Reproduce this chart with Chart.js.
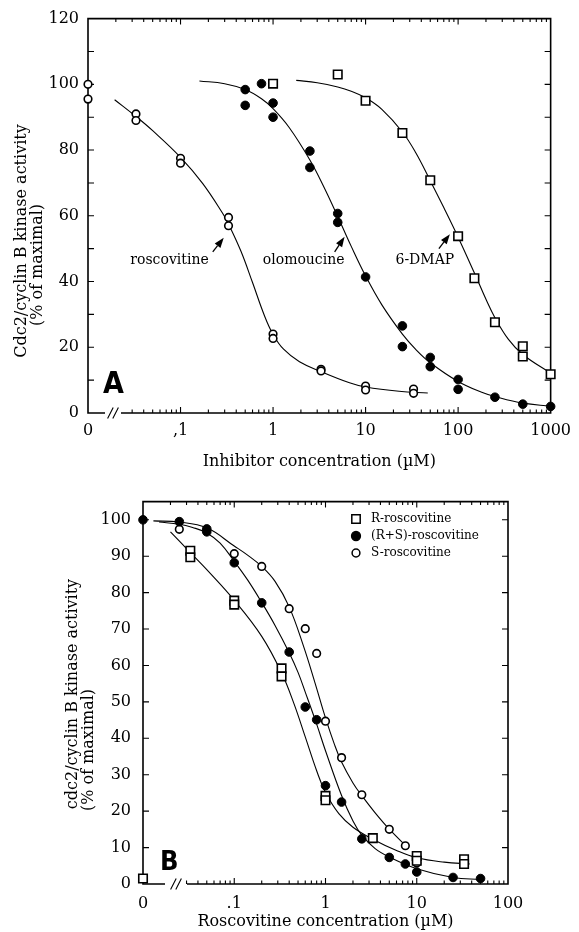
<!DOCTYPE html>
<html><head><meta charset="utf-8">
<script src="https://cdn.jsdelivr.net/npm/chart.js@4.4.0/dist/chart.umd.min.js"></script>
<style>
html,body{margin:0;padding:0;background:#fff;overflow:hidden;}
#cA{position:absolute;left:0;top:0;}
#cB{position:absolute;left:0;top:480px;}
</style></head><body>
<canvas id="cA" width="579" height="480"></canvas>
<canvas id="cB" width="579" height="452"></canvas>
<script>
// ---------- Panel A data ----------
const xTicksA = [0, 0.1, 1, 10, 100, 1000];
const xLabelsA = ['0', ',1', '1', '10', '100', '1000'];
const yTicksA = [0, 20, 40, 60, 80, 100, 120];

const roscoX = [0, 0, 0.033, 0.033, 0.1, 0.1, 0.33, 0.33, 1, 1, 3.3, 3.3, 10, 10, 33, 33];
const roscoY = [100, 95.5, 91, 89, 77.5, 76, 59.5, 57, 24, 22.7, 13.3, 12.8, 8.2, 7, 7.3, 6];
const roscoCurveX = [0.0194, 0.033, 0.05, 0.1, 0.174, 0.286, 0.33, 0.45, 0.6, 0.8, 1, 1.3, 1.93, 3.3, 6.7, 10, 23, 47];
const roscoCurveY = [95.3, 90.2, 85.9, 77.8, 69.8, 60.7, 57.5, 49.2, 39.7, 29.9, 23.9, 19.4, 15.6, 12.6, 9.2, 7.9, 6.6, 6.1];

const oloX = [0.5, 0.5, 0.75, 1, 1, 2.5, 2.5, 5, 5, 10, 25, 25, 50, 50, 100, 100, 250, 500, 1000];
const oloY = [98.4, 93.6, 100.2, 94.3, 90, 79.7, 74.7, 60.7, 58, 41.4, 26.5, 20.2, 16.9, 14.1, 10.2, 7.2, 4.8, 2.7, 2];
const oloCurveX = [0.16, 0.3, 0.5, 0.75, 1, 1.5, 2.5, 3.5, 5, 7, 10, 15, 25, 35, 50, 100, 180, 250, 500, 1000];
const oloCurveY = [101, 100.2, 98.4, 95.6, 92.6, 86.8, 77, 69.1, 59.8, 50.7, 41.7, 32.9, 24, 19.3, 15.3, 9.6, 6.3, 5.0, 3.0, 2.1];

const dmapX = [1, 5, 10, 25, 50, 100, 150, 250, 500, 500, 1000];
const dmapY = [100.2, 103, 95, 85.2, 70.8, 53.8, 41, 27.6, 20.3, 17.2, 11.8];
const dmapCurveX = [1.78, 3, 5, 7, 10, 15, 25, 35, 50, 70, 100, 150, 200, 250, 350, 500, 1000];
const dmapCurveY = [101.2, 100.5, 99.2, 97.9, 95.9, 92.4, 85.5, 79.1, 70.7, 62.5, 53.5, 42.6, 34.6, 29.0, 22.4, 17.8, 12.1];

// ---------- Panel B data ----------
const xTicksB = [0, 0.1, 1, 10, 100];
const xLabelsB = ['0', '.1', '1', '10', '100'];
const yTicksB = [0, 10, 20, 30, 40, 50, 60, 70, 80, 90, 100];

const rX = [0, 0.033, 0.033, 0.1, 0.1, 0.33, 0.33, 1, 1, 3.3, 10, 10, 33, 33];
const rY = [1.5, 91.5, 89.7, 77.8, 76.7, 59.2, 57, 24.2, 23, 12.6, 7.7, 6.4, 6.8, 5.5];
const rsX = [0, 0.025, 0.05, 0.05, 0.1, 0.2, 0.4, 0.6, 0.8, 1, 1.5, 2.5, 5, 7.5, 10, 25, 50];
const rsY = [100, 99.5, 97.5, 96.7, 88.2, 77.2, 63.7, 48.6, 45.1, 27, 22.5, 12.4, 7.3, 5.5, 3.3, 1.8, 1.5];
const sX = [0.025, 0.1, 0.2, 0.4, 0.6, 0.8, 1, 1.5, 2.5, 5, 7.5, 10];
const sY = [97.4, 90.7, 87.2, 75.6, 70.1, 63.3, 44.7, 34.7, 24.5, 15, 10.5, 5.8];

const rCurveX = [0.02, 0.033, 0.05, 0.1, 0.2, 0.33, 0.45, 0.6, 0.8, 1, 1.4, 2, 3.3, 6, 10, 20, 38];
const rCurveY = [96.7, 91, 86.3, 77.9, 68, 58, 49.6, 40.4, 31.1, 25.1, 19.3, 15.6, 12.3, 9.2, 7.2, 6, 5.5];
const rsCurveX = [0.015, 0.025, 0.035, 0.05, 0.07, 0.1, 0.14, 0.2, 0.28, 0.4, 0.5, 0.6, 0.8, 1, 1.5, 2, 2.5, 3.5, 5, 10, 25, 50];
const rsCurveY = [99.4, 98.8, 97.9, 96.4, 93.6, 88.6, 83.5, 77.3, 71, 63.5, 58.1, 52.7, 43.9, 36.6, 24.3, 17.3, 13.4, 9.7, 7.4, 4.2, 1.8, 1.2];
const sCurveX = [0.013, 0.025, 0.05, 0.1, 0.14, 0.2, 0.28, 0.4, 0.574, 0.77, 1, 1.25, 1.5, 2, 2.5, 3.5, 5, 7.5, 8.2];
const sCurveY = [99.7, 99.4, 97.8, 92.8, 90.3, 87.2, 83.1, 76.1, 65.3, 55.1, 45.6, 38.4, 33.5, 27.75, 24.25, 19.55, 15.05, 10.65, 9.8];

const legendB = ['R-roscovitine', '(R+S)-roscovitine', 'S-roscovitine'];

// ---------- helpers ----------
const XZERO = 0.01; // the "0" concentration sits at the left end of the log axis
const SERIF = '"DejaVu Serif", "Liberation Serif", serif';
function toX(v) { return v === 0 ? XZERO : v; }
function pts(xs, ys) { return xs.map((x, i) => ({ x: toX(x), y: ys[i] })); }

function markerSet(xs, ys, kind) {
  const base = { data: pts(xs, ys), showLine: false, clip: false, order: 0,
    pointBorderColor: '#000', pointBorderWidth: 1.6 };
  if (kind === 'open') Object.assign(base, { pointStyle: 'circle', pointRadius: 3.8, pointBackgroundColor: '#fff' });
  if (kind === 'filled') Object.assign(base, { pointStyle: 'circle', pointRadius: 4.3, pointBackgroundColor: '#000', pointBorderWidth: 1 });
  if (kind === 'square') Object.assign(base, { pointStyle: 'rect', pointRadius: 6, pointBackgroundColor: '#fff' });
  return base;
}
function curveSet(xs, ys) {
  return { data: pts(xs, ys), showLine: true, clip: false, order: 1, pointRadius: 0,
    borderColor: '#000', borderWidth: 1.1, tension: 0.4, fill: false };
}

function drawArrow(ctx, sx, sy, tx, ty) {
  const ang = Math.atan2(ty - sy, tx - sx);
  const hl = 10, hw = 3.6;
  const bx = tx - hl * Math.cos(ang), by = ty - hl * Math.sin(ang);
  ctx.beginPath(); ctx.lineWidth = 1.3; ctx.moveTo(sx, sy); ctx.lineTo(bx, by); ctx.stroke();
  ctx.beginPath();
  ctx.moveTo(tx, ty);
  ctx.lineTo(bx + hw * Math.sin(ang), by - hw * Math.cos(ang));
  ctx.lineTo(bx - hw * Math.sin(ang), by + hw * Math.cos(ang));
  ctx.closePath(); ctx.fill();
}

const framePlugin = {
  id: 'frame',
  beforeDatasetsDraw(chart, args, o) {
    const { ctx, chartArea: a, scales: { x, y } } = chart;
    ctx.save();
    ctx.strokeStyle = '#000'; ctx.fillStyle = '#000';
    ctx.lineWidth = 1.6;
    ctx.beginPath();
    ctx.moveTo(a.left + o.brk[1], a.bottom); ctx.lineTo(a.right, a.bottom);
    ctx.lineTo(a.right, a.top); ctx.lineTo(a.left, a.top); ctx.lineTo(a.left, a.bottom);
    ctx.lineTo(a.left + o.brk[0], a.bottom);
    ctx.stroke();
    // break marks
    ctx.lineWidth = 1.1;
    ctx.beginPath();
    const bc = (o.brk[0] + o.brk[1]) / 2;
    for (const dx of [bc - 2.6, bc + 2.6]) {
      ctx.moveTo(a.left + dx - 2.8, a.bottom + 5.5); ctx.lineTo(a.left + dx + 2.8, a.bottom - 5.5);
    }
    ctx.stroke();
    // x ticks (inward, bottom and top)
    ctx.lineWidth = 1.1;
    ctx.beginPath();
    for (let d = XZERO; d < o.xmax * 0.999; d *= 10) {
      for (let m = 1; m <= 9; m++) {
        const v = d * m;
        if (v <= XZERO * 1.001) continue;
        const px = x.getPixelForValue(v);
        const len = m === 1 ? 6 : 3.5;
        if (v >= o.minBottom) { ctx.moveTo(px, a.bottom); ctx.lineTo(px, a.bottom - len); }
        if (v >= 0.0199) { ctx.moveTo(px, a.top); ctx.lineTo(px, a.top + len); }
      }
    }
    // y ticks (inward, left and right)
    for (let v = o.ystep; v < o.ymax - 0.5; v += o.ystep) {
      const py = y.getPixelForValue(v);
      ctx.moveTo(a.left, py); ctx.lineTo(a.left + 6, py);
      ctx.moveTo(a.right, py); ctx.lineTo(a.right - 6, py);
    }
    ctx.stroke();
    ctx.restore();
  },
  afterDraw(chart, args, o) {
    const { ctx, chartArea: a, scales: { x, y } } = chart;
    ctx.save();
    ctx.fillStyle = '#000'; ctx.strokeStyle = '#000';
    // x title
    ctx.font = o.titleFont; ctx.textAlign = 'center'; ctx.textBaseline = 'middle';
    ctx.fillText(o.xTitle, (a.left + a.right) / 2, a.bottom + o.xTitleDy);
    // y title (two rotated lines)
    o.yTitle.forEach((t, i) => {
      ctx.save();
      ctx.translate(o.yTitlePos[i][0], o.yTitlePos[i][1]);
      ctx.rotate(-Math.PI / 2);
      ctx.fillText(t, 0, 0);
      ctx.restore();
    });
    // panel letter
    ctx.font = o.letterFont; ctx.textAlign = 'left'; ctx.textBaseline = 'alphabetic';
    ctx.fillText(o.letter, a.left + o.letterPos[0], a.bottom - o.letterPos[1]);
    // annotations with arrows (anchored in data coordinates)
    (o.notes || []).forEach(n => {
      ctx.font = o.noteFont; ctx.textAlign = 'center'; ctx.textBaseline = 'middle';
      ctx.fillText(n.text, x.getPixelForValue(n.at[0]), y.getPixelForValue(n.at[1]));
      drawArrow(ctx, x.getPixelForValue(n.from[0]), y.getPixelForValue(n.from[1]),
        x.getPixelForValue(n.to[0]), y.getPixelForValue(n.to[1]));
    });
    // legend
    if (o.legend) {
      const L = o.legend;
      L.items.forEach((it, i) => {
        const cy = L.y + i * L.dy, cx = L.x;
        ctx.lineWidth = 1.5;
        ctx.beginPath();
        if (it.kind === 'square') { ctx.rect(cx - 4.2, cy - 4.2, 8.4, 8.4); ctx.fillStyle = '#fff'; ctx.fill(); ctx.stroke(); }
        else { ctx.arc(cx, cy, it.kind === 'filled' ? 4.4 : 3.9, 0, Math.PI * 2);
          ctx.fillStyle = it.kind === 'filled' ? '#000' : '#fff'; ctx.fill(); ctx.stroke(); }
        ctx.fillStyle = '#000';
        ctx.font = L.font; ctx.textAlign = 'left'; ctx.textBaseline = 'middle';
        ctx.fillText(it.text, cx + 15, cy);
      });
    }
    ctx.restore();
  }
};

function makeChart(id, o) {
  return new Chart(document.getElementById(id), {
    type: 'scatter',
    data: { datasets: o.datasets },
    options: {
      responsive: false, animation: false, events: [],
      layout: { padding: o.padding },
      plugins: { legend: { display: false }, tooltip: { enabled: false }, frame: o.frame },
      scales: {
        x: {
          type: 'logarithmic', min: XZERO, max: o.xmax,
          grid: { display: false, drawTicks: false }, border: { display: false },
          afterBuildTicks: s => { s.ticks = o.xTicks.map(v => ({ value: toX(v) })); },
          afterFit: s => { s.height = o.xH; },
          ticks: { autoSkip: false, maxRotation: 0, minRotation: 0, padding: o.xPad, color: '#000',
            font: { family: SERIF, size: 16 }, callback: (v, i) => o.xLabels[i] }
        },
        y: {
          type: 'linear', min: 0, max: o.ymax,
          grid: { display: false, drawTicks: false }, border: { display: false },
          afterBuildTicks: s => { s.ticks = o.yTicks.map(v => ({ value: v })); },
          afterFit: s => { s.width = o.yW; },
          ticks: { padding: o.yPad, color: '#000', font: { family: SERIF, size: 16 }, callback: v => String(v) }
        }
      }
    },
    plugins: [framePlugin]
  });
}

makeChart('cA', {
  xmax: 1000, ymax: 120, xTicks: xTicksA, xLabels: xLabelsA, yTicks: yTicksA,
  padding: { left: 0, top: 18, right: 28, bottom: 0 }, xH: 67, yW: 88, xPad: 8, yPad: 9,
  datasets: [
    markerSet(roscoX, roscoY, 'open'),
    markerSet(oloX, oloY, 'filled'),
    markerSet(dmapX, dmapY, 'square'),
    curveSet(roscoCurveX, roscoCurveY),
    curveSet(oloCurveX, oloCurveY),
    curveSet(dmapCurveX, dmapCurveY)
  ],
  frame: {
    xmax: 1000, ymax: 120, ystep: 10, brk: [17, 33], minBottom: 0.029,
    xTitle: 'Inhibitor concentration (\u00b5M)', xTitleDy: 49,
    titleFont: '16px ' + SERIF,
    yTitle: ['Cdc2/cyclin B kinase activity', '(% of maximal)'],
    yTitlePos: [[22, 241], [38, 265]],
    letter: 'A', letterFont: 'bold 30px "DejaVu Sans Condensed", "Liberation Sans Narrow", sans-serif', letterPos: [15, 20],
    noteFont: '14px ' + SERIF,
    notes: [
      { text: 'roscovitine', at: [0.076, 46.5], from: [0.223, 49], to: [0.293, 53.3] },
      { text: 'olomoucine', at: [2.14, 46.5], from: [4.63, 49], to: [5.93, 53.6] },
      { text: '6-DMAP', at: [43.7, 46.5], from: [62, 50], to: [81.5, 54.4] }
    ]
  }
});

makeChart('cB', {
  xmax: 100, ymax: 105, xTicks: xTicksB, xLabels: xLabelsB, yTicks: yTicksB,
  padding: { left: 0, top: 8, right: 71, bottom: 0 }, xH: 48, yW: 143, xPad: 10, yPad: 12,
  datasets: [
    markerSet(rX, rY, 'square'),
    markerSet(rsX, rsY, 'filled'),
    markerSet(sX, sY, 'open'),
    curveSet(rCurveX, rCurveY),
    curveSet(rsCurveX, rsCurveY),
    curveSet(sCurveX, sCurveY)
  ],
  frame: {
    xmax: 100, ymax: 105, ystep: 10, brk: [22, 44], minBottom: 0.029,
    xTitle: 'Roscovitine concentration (\u00b5M)', xTitleDy: 38,
    titleFont: '16px ' + SERIF,
    yTitle: ['cdc2/cyclin B kinase activity', '(% of maximal)'],
    yTitlePos: [[73, 214], [89, 270]],
    letter: 'B', letterFont: 'bold 27px "DejaVu Sans Condensed", "Liberation Sans Narrow", sans-serif', letterPos: [17, 14],
    legend: {
      x: 356, y: 39, dy: 17, font: '12px ' + SERIF,
      items: [
        { kind: 'square', text: legendB[0] },
        { kind: 'filled', text: legendB[1] },
        { kind: 'open', text: legendB[2] }
      ]
    }
  }
});
</script>
</body></html>
